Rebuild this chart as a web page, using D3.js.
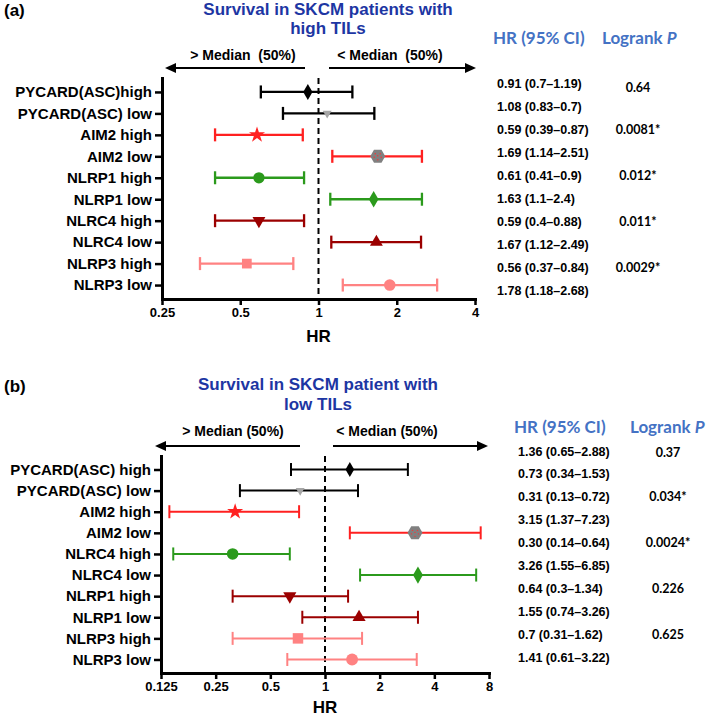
<!DOCTYPE html>
<html><head><meta charset="utf-8">
<script src="https://cdn.jsdelivr.net/npm/d3@7"></script>
<style>body{margin:0;background:#fff} svg{display:block}</style>
</head><body><svg id="c" width="709" height="718"></svg>
<script>
// ---------- DATA: panel (a) high TILs ----------
const catsA = ["PYCARD(ASC)high","PYCARD(ASC) low","AIM2 high","AIM2 low","NLRP1 high","NLRP1 low","NLRC4 high","NLRC4 low","NLRP3 high","NLRP3 low"];
const hrA   = [0.91, 1.08, 0.58, 1.69, 0.59, 1.63, 0.59, 1.67, 0.53, 1.88];
const loA   = [0.60, 0.73, 0.40, 1.13, 0.40, 1.11, 0.40, 1.12, 0.35, 1.24];
const hiA   = [1.35, 1.64, 0.87, 2.50, 0.88, 2.50, 0.88, 2.48, 0.80, 2.86];
const hrTextA = ["0.91 (0.7–1.19)","1.08 (0.83–0.7)","0.59 (0.39–0.87)","1.69 (1.14–2.51)","0.61 (0.41–0.9)","1.63 (1.1–2.4)","0.59 (0.4–0.88)","1.67 (1.12–2.49)","0.56 (0.37–0.84)","1.78 (1.18–2.68)"];
const pTextA  = ["0.64","","0.0081*","","0.012*","","0.011*","","0.0029*",""];
const ticksA  = [0.25, 0.5, 1, 2, 4];
const tickLabelsA = ["0.25","0.5","1","2","4"];

// ---------- DATA: panel (b) low TILs ----------
const catsB = ["PYCARD(ASC) high","PYCARD(ASC) low","AIM2 high","AIM2 low","NLRC4 high","NLRC4 low","NLRP1 high","NLRP1 low","NLRP3 high","NLRP3 low"];
const hrB   = [1.37, 0.73, 0.32, 3.13, 0.31, 3.25, 0.64, 1.54, 0.71, 1.41];
const loB   = [0.65, 0.34, 0.139, 1.37, 0.146, 1.56, 0.31, 0.75, 0.31, 0.62];
const hiB   = [2.86, 1.52, 0.72, 7.2, 0.64, 6.8, 1.34, 3.25, 1.60, 3.20];
const hrTextB = ["1.36 (0.65–2.88)","0.73 (0.34–1.53)","0.31 (0.13–0.72)","3.15 (1.37–7.23)","0.30 (0.14–0.64)","3.26 (1.55–6.85)","0.64 (0.3–1.34)","1.55 (0.74–3.26)","0.7 (0.31–1.62)","1.41 (0.61–3.22)"];
const pTextB  = ["0.37","","0.034*","","0.0024*","","0.226","","0.625",""];
const ticksB  = [0.125, 0.25, 0.5, 1, 2, 4, 8];
const tickLabelsB = ["0.125","0.25","0.5","1","2","4","8"];

// ---------- STYLES ----------
const RED="#ff2020", GREEN="#2b9a1c", DRED="#9b0000", SALMON="#ff8282", BLACK="#000";
const styleA = [
  {c:BLACK, m:"diamond", f:BLACK, s:75},
  {c:BLACK, m:"tridown", f:"#a6a6a6", s:34},
  {c:RED, m:"star", f:RED, s:80},
  {c:RED, m:"hex", f:"#808080", s:7.5},
  {c:GREEN, m:"circle", f:GREEN, s:100},
  {c:GREEN, m:"diamond", f:GREEN, s:80},
  {c:DRED, m:"tridown", f:DRED, s:72},
  {c:DRED, m:"triangle", f:DRED, s:72},
  {c:SALMON, m:"square", f:SALMON, s:95},
  {c:SALMON, m:"circle", f:SALMON, s:105}
];
const styleB = [
  {c:BLACK, m:"diamond", f:BLACK, s:65},
  {c:BLACK, m:"tridown", f:"#a6a6a6", s:34},
  {c:RED, m:"star", f:RED, s:80},
  {c:RED, m:"hex", f:"#808080", s:7.5},
  {c:GREEN, m:"circle", f:GREEN, s:105},
  {c:GREEN, m:"diamond", f:GREEN, s:85},
  {c:DRED, m:"tridown", f:DRED, s:75},
  {c:DRED, m:"triangle", f:DRED, s:75},
  {c:SALMON, m:"square", f:SALMON, s:110},
  {c:SALMON, m:"circle", f:SALMON, s:110}
];

const ARIAL = "'Liberation Sans', Arial, Helvetica, sans-serif";
const CAL = "Lato, 'Open Sans', sans-serif";
const svg = d3.select("#c");

function hexPath(r){
  const p = d3.path();
  for(let k=0;k<6;k++){
    const a = k*Math.PI/3;
    const px = r*Math.cos(a), py = r*Math.sin(a);
    if(k===0) p.moveTo(px,py); else p.lineTo(px,py);
  }
  p.closePath();
  return p.toString();
}

function drawPanel(cfg){
  const g = svg.append("g");
  const x = d3.scaleLog().base(2).domain(cfg.xDomain).range(cfg.xRange);
  const y = d3.scalePoint().domain(cfg.cats).range(cfg.yRange).padding(cfg.pad);

  g.append("text").attr("x",4).attr("y",cfg.letterY).text(cfg.letter)
    .attr("font-family",ARIAL).attr("font-weight","bold").attr("font-size",17);

  cfg.title.forEach((t,i)=>{
    g.append("text").attr("x",cfg.titleX).attr("y",cfg.titleY[i]).attr("text-anchor","middle")
      .attr("font-family",ARIAL).attr("font-weight","bold").attr("font-size",17)
      .attr("fill","#1d36a3").text(t);
  });

  const txtMed = (tx, t) => g.append("text").attr("x",tx).attr("y",cfg.medTextY).attr("text-anchor","middle")
      .attr("font-family",ARIAL).attr("font-weight","bold").attr("font-size",14)
      .style("white-space","pre").text(t);
  txtMed(cfg.medLeftX, cfg.medLeftText);
  txtMed(cfg.medRightX, cfg.medRightText);
  const arrow = (x1, x2) => {
    const dir = Math.sign(x2-x1);
    g.append("line").attr("x1",x1).attr("x2",x2-dir*8).attr("y1",cfg.arrowY).attr("y2",cfg.arrowY)
      .attr("stroke","#000").attr("stroke-width",2);
    g.append("path").attr("d",`M${x2},${cfg.arrowY}L${x2-dir*11},${cfg.arrowY-5}L${x2-dir*11},${cfg.arrowY+5}Z`)
      .attr("fill","#000");
  };
  arrow(cfg.arrowL[0], cfg.arrowL[1]);
  arrow(cfg.arrowR[0], cfg.arrowR[1]);

  g.append("line").attr("x1",x(1)).attr("x2",x(1)).attr("y1",cfg.yRange[0]).attr("y2",cfg.yRange[1])
    .attr("stroke","#000").attr("stroke-width",2).attr("stroke-dasharray","6,4");

  const rows = cfg.cats.map((c,i)=>({c, hr:cfg.hr[i], lo:cfg.lo[i], hi:cfg.hi[i], st:cfg.style[i]}));
  const eb = g.append("g");
  rows.forEach(d=>{
    const yy = y(d.c);
    eb.append("line").attr("x1",x(d.lo)).attr("x2",x(d.hi)).attr("y1",yy).attr("y2",yy)
      .attr("stroke",d.st.c).attr("stroke-width",cfg.lw);
    [d.lo,d.hi].forEach(v=>{
      eb.append("line").attr("x1",x(v)).attr("x2",x(v)).attr("y1",yy-cfg.cap).attr("y2",yy+cfg.cap)
        .attr("stroke",d.st.c).attr("stroke-width",cfg.lw);
    });
  });

  const mk = g.append("g");
  rows.forEach(d=>{
    const tx = x(d.hr), ty = y(d.c);
    const st = d.st;
    if(st.m==="hex"){
      mk.append("path").attr("d",hexPath(st.s)).attr("transform",`translate(${tx},${ty})`).attr("fill",st.f);
      [[-2.5,-2.5],[2.5,-2.5],[-3.5,1],[3.5,1],[0,3.5],[0,-0.5]].forEach(p=>{
        mk.append("circle").attr("cx",tx+p[0]).attr("cy",ty+p[1]).attr("r",0.7).attr("fill","#ff3030");
      });
      return;
    }
    let type = d3.symbolCircle, rot = 0;
    if(st.m==="diamond") type = d3.symbolDiamond;
    else if(st.m==="star") type = d3.symbolStar;
    else if(st.m==="square") type = d3.symbolSquare;
    else if(st.m==="triangle") type = d3.symbolTriangle;
    else if(st.m==="tridown"){ type = d3.symbolTriangle; rot = 180; }
    mk.append("path").attr("d",d3.symbol().type(type).size(st.s)())
      .attr("transform",`translate(${tx},${ty}) rotate(${rot})`).attr("fill",st.f);
  });

  const ya = g.append("g").attr("transform",`translate(${cfg.xRange[0]},0)`)
    .call(d3.axisLeft(y).tickSize(7).tickSizeOuter(0).tickPadding(3));
  ya.select(".domain").attr("stroke-width",3).attr("stroke-linecap","square");
  ya.selectAll(".tick line").attr("stroke-width",2.5);
  ya.selectAll(".tick text").attr("font-family",ARIAL).attr("font-weight","bold").attr("font-size",15).attr("fill","#000");

  const xa = g.append("g").attr("transform",`translate(0,${cfg.yRange[1]})`)
    .call(d3.axisBottom(x).tickValues(cfg.ticks).tickFormat((d,i)=>cfg.tickLabels[i]).tickSize(6).tickSizeOuter(0).tickPadding(3));
  xa.select(".domain").attr("stroke-width",3).attr("stroke-linecap","square");
  xa.selectAll(".tick line").attr("stroke-width",2.5);
  xa.selectAll(".tick text").attr("font-family",ARIAL).attr("font-weight","bold").attr("font-size",13).attr("fill","#000");

  g.append("text").attr("x",x(1)).attr("y",cfg.hrLabelY).attr("text-anchor","middle")
    .attr("font-family",ARIAL).attr("font-weight","bold").attr("font-size",17).text("HR");

  g.append("text").attr("x",cfg.hrColX - 4).attr("y",cfg.headY).attr("font-family",CAL).attr("font-weight","bold")
    .attr("font-size",17).attr("fill","#4472c4").text("HR (95% CI)");
  const lh = g.append("text").attr("x",cfg.pHeadX).attr("y",cfg.headY).attr("font-family",CAL).attr("font-weight","bold")
    .attr("font-size",17).attr("fill","#4472c4");
  lh.append("tspan").text("Logrank ");
  lh.append("tspan").attr("font-style","italic").text("P");

  cfg.hrText.forEach((t,i)=>{
    g.append("text").attr("x",cfg.hrColX).attr("y",cfg.valY0 + i*cfg.valStep + 4.5)
      .attr("font-family",ARIAL).attr("font-weight","bold").attr("font-size",12.5).text(t);
  });
  cfg.pText.forEach((t,i)=>{
    if(!t) return;
    g.append("text").attr("x",cfg.pColX).attr("y",cfg.valY0 + i*cfg.valStep + 4.5 + (i===0?cfg.p0shift:0))
      .attr("text-anchor","middle").attr("font-family",CAL).attr("font-weight","bold").attr("font-size",12.5).text(t);
  });
}

drawPanel({
  letter:"(a)", letterY:16,
  title:["Survival in SKCM patients with","high TILs"], titleX:328, titleY:[15,34],
  medLeftText:"> Median  (50%)", medRightText:"< Median  (50%)", medLeftX:243, medRightX:390, medTextY:60,
  arrowY:68, arrowL:[305,165], arrowR:[329,476],
  cats:catsA, hr:hrA, lo:loA, hi:hiA, style:styleA,
  xDomain:[0.25,4], xRange:[162,475], yRange:[78,299], pad:0.65,
  ticks:ticksA, tickLabels:tickLabelsA, hrLabelY:342,
  lw:2.3, cap:6.5,
  hrText:hrTextA, pText:pTextA, hrColX:497, pColX:638, valY0:83, valStep:23.1, p0shift:4,
  headY:44, pHeadX:602
});

drawPanel({
  letter:"(b)", letterY:392,
  title:["Survival in SKCM patient with","low TILs"], titleX:318, titleY:[390,410],
  medLeftText:"> Median (50%)", medRightText:"< Median (50%)", medLeftX:233, medRightX:387, medTextY:436,
  arrowY:446, arrowL:[300,155], arrowR:[333,488],
  cats:catsB, hr:hrB, lo:loB, hi:hiB, style:styleB,
  xDomain:[0.125,8], xRange:[161,489], yRange:[456,673], pad:0.64,
  ticks:ticksB, tickLabels:tickLabelsB, hrLabelY:713,
  lw:2, cap:6.5,
  hrText:hrTextB, pText:pTextB, hrColX:518, pColX:668, valY0:451, valStep:22.9, p0shift:1,
  headY:433, pHeadX:630
});
</script></body></html>
